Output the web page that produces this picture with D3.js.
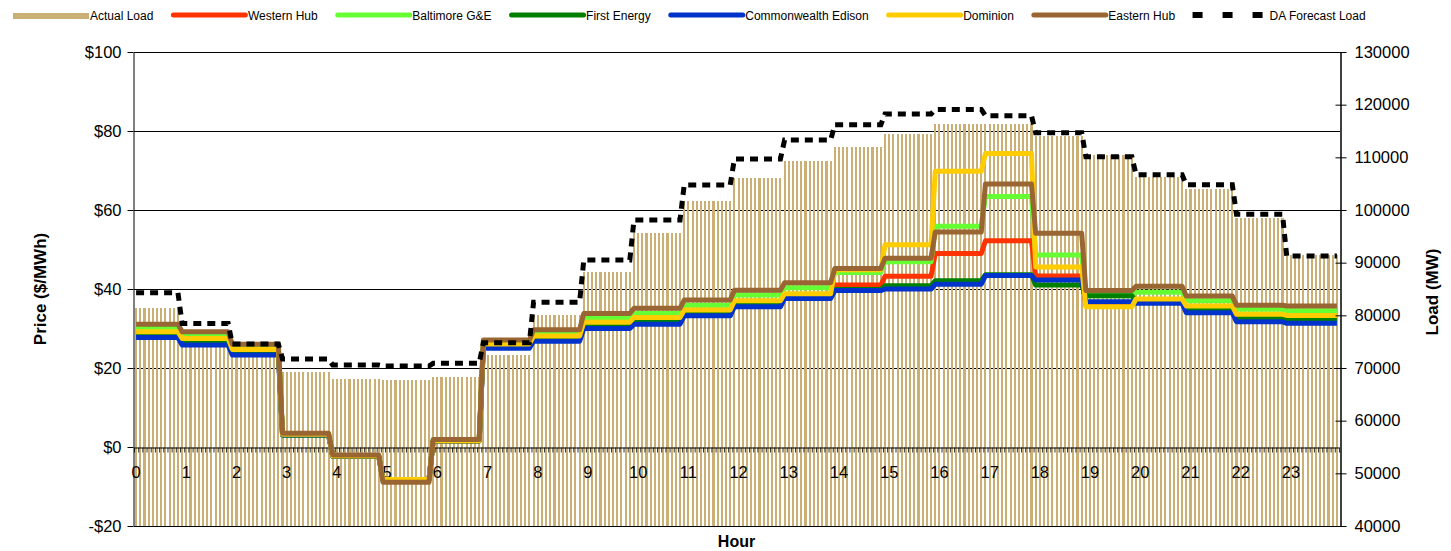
<!DOCTYPE html>
<html lang="en">
  <head>
    <meta charset="UTF-8" />
    <title>Load and Real-Time Prices</title>
    <script src="https://cdn.jsdelivr.net/npm/d3@7"></script>
    <style>
      body { margin: 0; background: #fff; }
      svg text { font-family: "Liberation Sans", Arial, sans-serif; fill: #000; }
    </style>
  </head>
  <body>
    <div id="chart"></div>
    <script>
      // hourly values; the x axis has 12 five-minute intervals per hour
      const hourLabels = ["0","1","2","3","4","5","6","7","8","9","10","11","12","13","14","15","16","17","18","19","20","21","22","23"];
      const actualLoad = [81340, 77000, 73200, 69250, 67900, 67720, 68230, 72470, 80100, 88290, 95570, 101700, 106050, 109300, 111960, 114430, 116330, 116330, 114050, 110400, 106320, 104000, 98540, 91450];
      const daForecast = [84300, 78470, 74560, 71700, 70550, 70380, 70890, 74800, 82500, 90500, 98100, 104750, 109700, 113290, 116200, 118230, 119100, 117900, 114680, 110120, 106700, 104800, 99180, 91270];
      const westernHub = [28.8, 27.1, 24.5, 3.2, -2.3, -8.3, 1.6, 25.8, 27.6, 31.0, 32.4, 34.3, 36.5, 38.3, 41.0, 43.2, 49.0, 52.2, 43.3, 36.0, 37.2, 35.3, 33.2, 32.9];
      const baltimore = [30.0, 28.4, 25.4, 3.3, -2.2, -8.5, 1.7, 26.6, 28.9, 32.7, 33.8, 35.9, 38.5, 40.3, 44.2, 46.9, 55.9, 63.4, 48.6, 38.3, 39.2, 37.0, 34.9, 34.5];
      const firstEnergy = [28.5, 26.8, 24.3, 3.0, -2.4, -8.3, 1.5, 25.5, 27.3, 30.6, 32.0, 33.8, 36.0, 37.9, 39.9, 40.8, 42.1, 43.6, 41.0, 38.3, 36.9, 34.9, 32.7, 32.3];
      const comEd = [27.7, 25.8, 23.3, 3.1, -2.3, -8.2, 1.6, 25.0, 26.8, 30.0, 31.1, 33.2, 35.5, 37.6, 39.6, 40.0, 41.2, 43.4, 42.3, 36.8, 36.4, 34.0, 31.7, 31.3];
      const dominion = [29.2, 27.5, 24.7, 3.2, -2.3, -8.2, 1.6, 26.1, 28.1, 31.6, 32.8, 34.7, 37.0, 38.8, 44.9, 51.2, 69.8, 74.3, 45.6, 35.5, 37.5, 35.7, 33.6, 33.3];
      const easternHub = [31.1, 29.2, 26.0, 3.5, -2.0, -8.9, 1.9, 27.1, 29.7, 33.8, 35.1, 37.2, 39.7, 41.6, 45.2, 47.8, 54.4, 66.6, 54.1, 39.6, 40.7, 38.2, 35.9, 35.7];
      const priceTicks = [-20, 0, 20, 40, 60, 80, 100];
      const loadTicks = [40000, 50000, 60000, 70000, 80000, 90000, 100000, 110000, 120000, 130000];

      const intervals = d3.range(288);
      // interval i belongs to the hour ending at its 12th step
      function hourOf(i) { return Math.min(23, Math.floor((i + 1) / 12)); }

      const priceSeries = [
        { name: "Western Hub", color: "#ff3300", values: westernHub },
        { name: "Baltimore G&E", color: "#66ff33", values: baltimore },
        { name: "First Energy", color: "#008000", values: firstEnergy },
        { name: "Commonwealth Edison", color: "#0033cc", values: comEd },
        { name: "Dominion", color: "#ffcc00", values: dominion },
        { name: "Eastern Hub", color: "#996633", values: easternHub }
      ];
      const barColor = "#cab074";

      const W = 1451, H = 551;
      const plotLeft = 134, plotRight = 1339, plotTop = 52, plotBottom = 526;

      const svg = d3.select("#chart").append("svg")
        .attr("width", W).attr("height", H);

      const x = d3.scaleBand().domain(intervals).range([plotLeft, plotRight]).padding(0);
      const xEdge = d3.scaleLinear().domain([0, 288]).range([plotLeft, plotRight]);
      const yPrice = d3.scaleLinear().domain([-20, 100]).range([plotBottom, plotTop]);
      const yLoad = d3.scaleLinear().domain([40000, 130000]).range([plotBottom, plotTop]);
      const bw = x.bandwidth();

      // gridlines behind the bars
      svg.append("g").selectAll("line")
        .data(priceTicks.filter(d => d !== 0))
        .enter().append("line")
        .attr("x1", plotLeft).attr("x2", plotRight + 1)
        .attr("y1", d => Math.round(yPrice(d)) + 0.5)
        .attr("y2", d => Math.round(yPrice(d)) + 0.5)
        .attr("stroke", "#000").attr("stroke-width", 1);

      // actual load bars
      svg.append("g").selectAll("rect")
        .data(intervals)
        .enter().append("rect")
        .attr("x", i => x(i) + bw * 0.25)
        .attr("width", bw * 0.5)
        .attr("y", i => yLoad(actualLoad[hourOf(i)]))
        .attr("height", i => plotBottom - yLoad(actualLoad[hourOf(i)]))
        .attr("fill", barColor)
        .attr("shape-rendering", "crispEdges");

      // x axis sits on $0
      const y0 = Math.round(yPrice(0)) + 0.5;
      const xAxis = svg.append("g")
        .attr("transform", `translate(0,${y0})`)
        .call(d3.axisBottom(xEdge).tickValues(d3.range(289)).tickSize(5).tickSizeOuter(0).tickFormat(""));
      xAxis.select(".domain").attr("stroke", "#000");
      xAxis.selectAll(".tick line").attr("stroke", "#000").attr("stroke-width", 0.8);

      svg.append("g").selectAll("text")
        .data(hourLabels)
        .enter().append("text")
        .attr("x", (d, h) => x(h * 12) + bw / 2)
        .attr("y", 478)
        .attr("text-anchor", "middle")
        .attr("font-size", "16.5px")
        .text(d => d);

      // price lines
      const priceLine = values => d3.line()
        .x(i => x(i) + bw / 2)
        .y(i => yPrice(values[hourOf(i)]));

      svg.append("g").selectAll("path")
        .data(priceSeries)
        .enter().append("path")
        .attr("d", s => priceLine(s.values)(intervals))
        .attr("fill", "none")
        .attr("stroke", s => s.color)
        .attr("stroke-width", 5)
        .attr("stroke-linejoin", "round");

      // day-ahead forecast, dashed
      svg.append("path")
        .attr("d", d3.line().x(i => x(i) + bw / 2).y(i => yLoad(daForecast[hourOf(i)]))(intervals))
        .attr("fill", "none")
        .attr("stroke", "#000")
        .attr("stroke-width", 5)
        .attr("stroke-dasharray", "8,6");

      // left axis
      const yAxisL = svg.append("g")
        .attr("transform", `translate(${plotLeft - 0.5},0)`)
        .call(d3.axisLeft(yPrice).tickValues(priceTicks).tickSize(6).tickSizeOuter(0).tickPadding(6)
          .tickFormat(d => d < 0 ? "-$" + (-d) : "$" + d));
      yAxisL.attr("font-family", null).attr("font-size", null);
      yAxisL.selectAll("text").attr("font-size", "16.5px");
      yAxisL.selectAll("line, path").attr("stroke", "#000");

      // right axis
      const yAxisR = svg.append("g")
        .attr("transform", `translate(${plotRight + 1.5},0)`)
        .call(d3.axisRight(yLoad).tickValues(loadTicks).tickSize(6).tickSizeOuter(0).tickPadding(8)
          .tickFormat(d3.format("d")));
      yAxisR.attr("font-family", null).attr("font-size", null);
      yAxisR.selectAll("text").attr("font-size", "16.5px");
      yAxisR.select(".domain").attr("stroke", "#404040").attr("stroke-width", 2);
      yAxisR.selectAll(".tick line").attr("x1", -5).attr("stroke", "#000");

      // axis titles
      svg.append("text")
        .attr("transform", "translate(40,289) rotate(-90)")
        .attr("text-anchor", "middle").attr("dy", "0.35em")
        .attr("font-size", "17px").attr("font-weight", "bold")
        .text("Price ($/MWh)");
      svg.append("text")
        .attr("transform", "translate(1432,292) rotate(-90)")
        .attr("text-anchor", "middle").attr("dy", "0.35em")
        .attr("font-size", "17px").attr("font-weight", "bold")
        .text("Load (MW)");
      svg.append("text")
        .attr("x", (plotLeft + plotRight) / 2).attr("y", 547)
        .attr("text-anchor", "middle")
        .attr("font-size", "16px").attr("font-weight", "bold")
        .text("Hour");

      // legend, laid out left to right
      const legendItems = [{ name: "Actual Load", type: "bar", color: barColor }]
        .concat(priceSeries.map(s => ({ name: s.name, type: "line", color: s.color })))
        .concat([{ name: "DA Forecast Load", type: "dash", color: "#000" }]);

      const legend = svg.append("g");
      let lx = 13;
      const ly = 16, sw = 77;
      legendItems.forEach(item => {
        if (item.type === "bar") {
          legend.append("rect").attr("x", lx).attr("y", ly - 3).attr("width", sw - 1).attr("height", 6)
            .attr("fill", item.color);
        } else if (item.type === "line") {
          legend.append("line").attr("x1", lx + 2.5).attr("x2", lx + sw - 2.5)
            .attr("y1", ly - 1).attr("y2", ly - 1)
            .attr("stroke", item.color).attr("stroke-width", 5).attr("stroke-linecap", "round");
        } else {
          legend.append("line").attr("x1", lx).attr("x2", lx + sw - 6)
            .attr("y1", ly - 1).attr("y2", ly - 1)
            .attr("stroke", item.color).attr("stroke-width", 6).attr("stroke-dasharray", "10,20");
        }
        const t = legend.append("text")
          .attr("x", lx + sw).attr("y", ly).attr("dy", "0.35em")
          .attr("font-size", "12px")
          .text(item.name);
        lx += sw + t.node().getComputedTextLength() + 17.5;
      });
    </script>
  </body>
</html>
